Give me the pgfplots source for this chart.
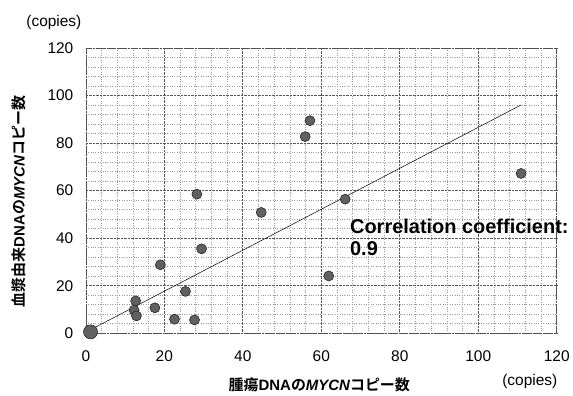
\documentclass[border=0pt]{standalone}
\usepackage{pgfplots}
\pgfplotsset{compat=1.18}
\usepackage{fontspec}
\setmainfont{Liberation Sans}
\newfontfamily\jp{Noto Sans CJK JP}[BoldFont={Noto Sans CJK JP Bold}]
\begin{document}
\begin{tikzpicture}[x=1pt,y=1pt]
\path (0,0) rectangle (573,395);
\begin{axis}[
  at={(86pt,61pt)}, anchor=south west,
  scale only axis, width=472pt, height=286pt,
  xmin=0, xmax=120, ymin=0, ymax=120,
  xtick={0,20,...,120}, ytick={0,20,...,120},
  minor tick num=4,
  major tick length=0pt, minor tick length=0pt,
  grid=both,
  major grid style={densely dotted, black!65, line width=0.6pt},
  minor grid style={dotted, black!40, line width=0.5pt},
  axis line style={densely dotted, black!70, line width=0.6pt},
  tick label style={font=\fontsize{15.5}{17}\selectfont},
  /pgf/number format/assume math mode=true,
  xticklabel style={yshift=-14pt},
  yticklabel style={xshift=-9pt},
  clip=false,
]
\addplot[black, line width=0.5pt] coordinates {(1,1.3) (110.9,96)};
\addplot[only marks, mark=*, mark size=5pt, mark options={fill=black!62, draw=black!85, line width=0.6pt}] coordinates {
(12.7,13.6) (12.3,9.7) (12.9,7.3) (17.6,10.7) (19.0,28.8) (22.6,5.9)
(25.4,17.6) (27.7,5.6) (28.3,58.5) (29.5,35.5) (44.7,50.8) (57.1,89.4)
(55.9,82.7) (66.1,56.4) (110.9,67.2) (61.9,24.1)
};
\addplot[only marks, mark=*, mark size=7pt, mark options={fill=black!62, draw=black!85, line width=0.6pt}] coordinates {(1.2,0.6)};
\node[anchor=north west, inner sep=0pt, align=left, font=\fontsize{20}{22}\selectfont\bfseries] at (axis cs:67.3,48) {Correlation coefficient:\\0.9};
\end{axis}
\node[font=\fontsize{15.5}{17}\selectfont] at (54,372) {(copies)};
\node[font=\fontsize{15.5}{17}\selectfont] at (531,13) {(copies)};
\node[rotate=90, font=\fontsize{15}{17}\selectfont] at (19,193) {{\jp\bfseries 血漿由来}{\bfseries DNA}{\jp\bfseries の}{\bfseries\itshape MYCN}{\jp\bfseries コピー数}};
\node[font=\fontsize{15}{17}\selectfont] at (320,9) {{\jp\bfseries 腫瘍}{\bfseries DNA}{\jp\bfseries の}{\bfseries\itshape MYCN}{\jp\bfseries コピー数}};
\end{tikzpicture}
\end{document}
